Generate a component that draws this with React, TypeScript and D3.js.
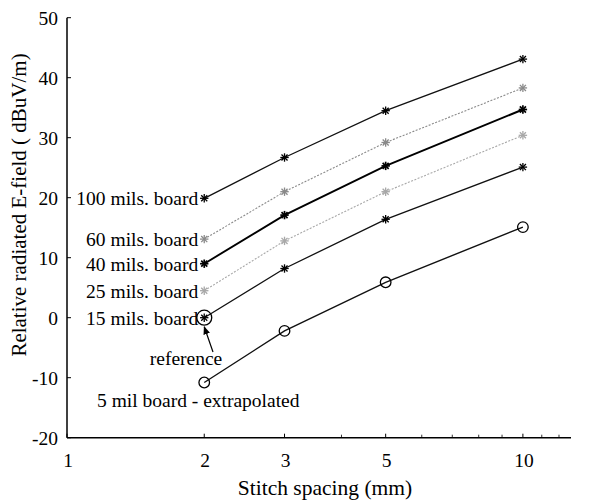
import React from "react";
import * as d3 from "d3";

const spacings = [2, 3, 5, 10];
const mils100 = [19.9, 26.7, 34.5, 43.1];
const mils60 = [13.1, 21.0, 29.2, 38.3];
const mils40 = [9.0, 17.1, 25.3, 34.7];
const mils25 = [4.5, 12.8, 21.0, 30.4];
const mils15 = [0, 8.2, 16.4, 25.1];
const mil5 = [-10.8, -2.2, 5.9, 15.1];

const seriesNames = ["100 mils. board", "60 mils. board", "40 mils. board", "25 mils. board", "15 mils. board", "5 mil board - extrapolated"];
const xTickValues = [1, 2, 3, 5, 10];
const xMinorTicks = [4, 6, 7, 8, 9, 11, 12];
const yTickValues = [-20, -10, 0, 10, 20, 30, 40, 50];

const W = 598, H = 502;
const FONT = "'Liberation Serif', 'Times New Roman', serif";

function Asterisk({ x, y, color, r = 4, sw = 1 }: { x: number; y: number; color: string; r?: number; sw?: number }) {
  const d = r * 0.72;
  return (
    <g stroke={color} strokeWidth={sw}>
      <line x1={x - r} y1={y} x2={x + r} y2={y} />
      <line x1={x} y1={y - r} x2={x} y2={y + r} />
      <line x1={x - d} y1={y - d} x2={x + d} y2={y + d} />
      <line x1={x - d} y1={y + d} x2={x + d} y2={y - d} />
    </g>
  );
}

export default function App() {
  const x = d3.scaleLog().domain([1, 12.75]).range([67, 571]);
  const y = d3.scaleLinear().domain([-20, 50]).range([437.7, 17.7]);
  const line = d3.line<[number, number]>().x((d) => x(d[0])).y((d) => y(d[1]));

  const series = [
    { name: seriesNames[0], vals: mils100, color: "#111", sw: 1.3, dash: undefined, marker: "star" },
    { name: seriesNames[1], vals: mils60, color: "#8a8a8a", sw: 1.1, dash: "2,1.5", marker: "star" },
    { name: seriesNames[2], vals: mils40, color: "#000", sw: 1.9, dash: undefined, marker: "star" },
    { name: seriesNames[3], vals: mils25, color: "#a8a8a8", sw: 1.1, dash: "2,1.5", marker: "star" },
    { name: seriesNames[4], vals: mils15, color: "#111", sw: 1.3, dash: undefined, marker: "star" },
    { name: seriesNames[5], vals: mil5, color: "#111", sw: 1.4, dash: undefined, marker: "circle" },
  ];

  const x0 = x.range()[0];
  const x1 = x.range()[1];
  const yb = y(-20);
  const yt = y(50);

  return (
    <svg width={W} height={H} style={{ position: "absolute", left: 0, top: 0, background: "#fff" }} fontFamily={FONT}>
      <rect width={W} height={H} fill="#fff" />
      {/* axes */}
      <line x1={x0} y1={yt} x2={x0} y2={yb} stroke="#000" strokeWidth={1.5} />
      <line x1={x0} y1={yb} x2={x1} y2={yb} stroke="#000" strokeWidth={1.5} />
      {yTickValues.map((v) => (
        <g key={"yt" + v}>
          <line x1={x0} x2={x0 + 4} y1={y(v)} y2={y(v)} stroke="#000" strokeWidth={1} />
          <text x={x0 - 9} y={y(v)} dy="0.35em" textAnchor="end" fontSize={19.5} fill="#000">{v}</text>
        </g>
      ))}
      {xTickValues.map((v) => (
        <g key={"xt" + v}>
          <line x1={x(v)} x2={x(v)} y1={yb} y2={yb - 4} stroke="#000" strokeWidth={1} />
          <text x={x(v) + 1} y={yb + 22} dy="0.35em" textAnchor="middle" fontSize={19.5} fill="#000">{v}</text>
        </g>
      ))}
      {xMinorTicks.map((v) => (
        <line key={"xm" + v} x1={x(v)} x2={x(v)} y1={yb} y2={yb - 3} stroke="#000" strokeWidth={0.8} />
      ))}
      <text x={325} y={yb + 50} dy="0.35em" textAnchor="middle" fontSize={21.5} fill="#000">Stitch spacing (mm)</text>
      <text transform={`translate(19,205) rotate(-90)`} dy="0.35em" textAnchor="middle" fontSize={21} fill="#000">Relative radiated E-field ( dBuV/m)</text>

      {/* series */}
      {series.map((s) => {
        const pts = spacings.map((sp, i) => [sp, s.vals[i]] as [number, number]);
        return (
          <g key={s.name}>
            <path d={line(pts) || ""} fill="none" stroke={s.color} strokeWidth={s.sw} strokeDasharray={s.dash} />
            {pts.map((p, i) =>
              s.marker === "circle" ? (
                <circle key={i} cx={x(p[0])} cy={y(p[1])} r={5.3} fill="none" stroke="#000" strokeWidth={1.3} />
              ) : (
                <Asterisk key={i} x={x(p[0])} y={y(p[1])} color={s.color === "#000" || s.color === "#111" ? "#000" : s.color} r={4.2} sw={s.sw > 1.5 ? 1.7 : 1.3} />
              )
            )}
          </g>
        );
      })}

      {/* series labels */}
      {series.slice(0, 5).map((s) => (
        <text key={"lbl" + s.name} x={x(2) - 6} y={y(s.vals[0])} dy="0.35em" textAnchor="end" fontSize={19.5} fill="#000">{s.name}</text>
      ))}
      {/* reference circle */}
      <circle cx={x(2)} cy={y(mils15[0])} r={7.5} fill="none" stroke="#000" strokeWidth={1.3} />
      <defs>
        <marker id="ah" viewBox="0 0 10 10" refX="9" refY="5" markerWidth="7" markerHeight="7" orient="auto">
          <path d="M0,1 L10,5 L0,9 z" fill="#000" />
        </marker>
      </defs>
      <line x1={213} y1={352} x2={x(2)} y2={y(mils15[0]) + 9} stroke="#000" strokeWidth={1.2} markerEnd="url(#ah)" />
      <text x={186} y={358} dy="0.35em" textAnchor="middle" fontSize={19.5} fill="#000">reference</text>
      <text x={97} y={400} dy="0.35em" textAnchor="start" fontSize={19.5} fill="#000">{seriesNames[5]}</text>
    </svg>
  );
}
